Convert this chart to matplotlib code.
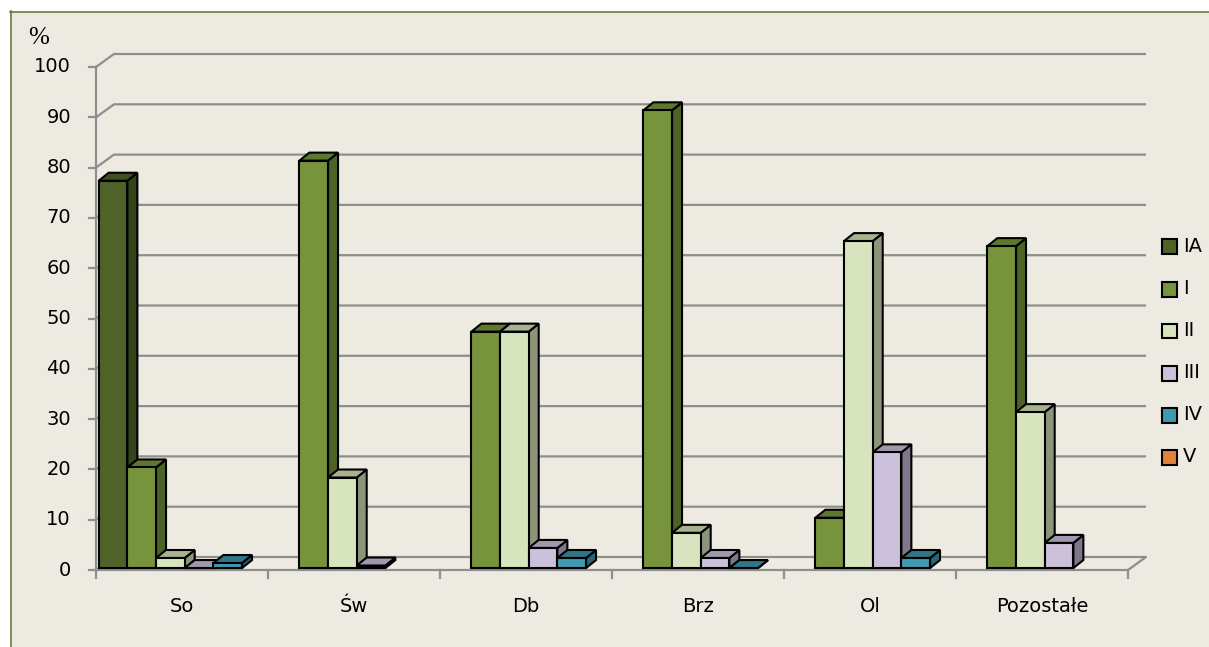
import matplotlib
matplotlib.use("Agg")
import matplotlib.pyplot as plt
from matplotlib.patches import Polygon, Rectangle
from matplotlib.lines import Line2D

W, H = 1209, 647

categories = ["So", "Św", "Db", "Brz", "Ol", "Pozostałe"]
series_names = ["IA", "I", "II", "III", "IV", "V"]

# None = empty cell (no bar drawn), 0 = flat bar
ia_vals = [77, None, None, None, None, None]
i_vals = [20, 81, 47, 91, 10, 64]
ii_vals = [2, 18, 47, 7, 65, 31]
iii_vals = [0, 0.5, 4, 2, 23, 5]
iv_vals = [1, None, 2, 0, 2, None]
v_vals = [None, None, None, None, None, None]
all_vals = [ia_vals, i_vals, ii_vals, iii_vals, iv_vals, v_vals]

y_ticks = list(range(0, 101, 10))

# front / top / side colours per series
front_c = ["#4F6228", "#77933C", "#D7E4BD", "#CCC1DA", "#4198AF", "#E46C0A"]
top_c = ["#3F4F20", "#5E7830", "#A7B38F", "#A298AE", "#2E7688", "#B85608"]
side_c = ["#364419", "#4D6226", "#8C947A", "#7E778A", "#286475", "#9A4806"]
legend_c = ["#4F6228", "#77933C", "#D7E4BD", "#CCC1DA", "#4198AF", "#E3803A"]

bg = "#EDEBE1"
grid_c = "#8E8E8E"
FONT = "DejaVu Sans"
FS = 14

# pixel geometry
PX_X = 172.0   # px per category
PX_Y = 5.03    # px per percent
x0_px, y0_px = 96, 570
back_dx, back_dy = 18 / PX_X, 13 / PX_Y
bar_dx, bar_dy = 10 / PX_X, 8 / PX_Y
front_f = 0.15
xmax = len(categories) + back_dx
ymax = 100 + back_dy + 0.2

fig = plt.figure(figsize=(W / 100, H / 100), dpi=100)
fig.patch.set_facecolor("white")
fig.patches.append(Rectangle((10 / W, 0), 1 - 10 / W, 1 - 11 / H, transform=fig.transFigure,
                             facecolor=bg, edgecolor="none", zorder=-10))
fig.lines.append(Line2D([10.5 / W, 10.5 / W], [0, 1 - 11 / H], transform=fig.transFigure,
                        color="#6E7D3C", lw=1.2, zorder=-9))
fig.lines.append(Line2D([10 / W, 1], [1 - 11.5 / H, 1 - 11.5 / H], transform=fig.transFigure,
                        color="#6E7D3C", lw=1.2, zorder=-9))

ax_w = xmax * PX_X
ax_h = ymax * PX_Y
ax = fig.add_axes([x0_px / W, (H - y0_px) / H, ax_w / W, ax_h / H])
ax.set_xlim(0, xmax)
ax.set_ylim(0, ymax)
ax.axis("off")
ax.patch.set_alpha(0)

glw = 1.6
# gridlines on back wall + left wall diagonal
for v in y_ticks:
    if v == 0:
        continue
    ax.plot([0, back_dx, xmax], [v, v + back_dy, v + back_dy], color=grid_c, lw=glw,
            solid_capstyle="butt", zorder=1, clip_on=False)
# floor
ax.plot([0, len(categories), xmax, back_dx, 0], [0, 0, back_dy, back_dy, 0],
        color=grid_c, lw=glw, zorder=1, clip_on=False)
# y axis
ax.plot([0, 0], [0, 100], color=grid_c, lw=glw, zorder=1, clip_on=False)
tick_len = 7 / PX_X
for v in y_ticks:
    ax.plot([-tick_len, 0], [v, v], color=grid_c, lw=glw, zorder=1, clip_on=False)
    ax.text(-25 / PX_X, v, str(v), ha="right", va="center", fontsize=FS,
            family=FONT, color="black")
for i in range(len(categories) + 1):
    ax.plot([i, i], [0, -8 / PX_Y], color=grid_c, lw=glw, zorder=1, clip_on=False)
for i, c in enumerate(categories):
    ax.text(i + 0.5, -36 / PX_Y, c, ha="center", va="center", fontsize=FS,
            family=FONT, color="black")
ax.text(-68 / PX_X, 100 + 29 / PX_Y, "%", ha="left", va="center", fontsize=18,
        family="Liberation Serif", color="black")

# bars
slot = 1.0 / len(series_names)
z = 2
elw = 1.5
for i in range(len(categories)):
    for j, vals in enumerate(all_vals):
        v = vals[i]
        if v is None:
            continue
        xl = i + j * slot + front_f * back_dx
        xr = xl + slot
        yb = front_f * back_dy
        yt = yb + v
        side = [(xr, yb), (xr + bar_dx, yb + bar_dy), (xr + bar_dx, yt + bar_dy), (xr, yt)]
        top = [(xl, yt), (xr, yt), (xr + bar_dx, yt + bar_dy), (xl + bar_dx, yt + bar_dy)]
        front = [(xl, yb), (xr, yb), (xr, yt), (xl, yt)]
        for pts, col in ((side, side_c[j]), (top, top_c[j]), (front, front_c[j])):
            ax.add_patch(Polygon(pts, closed=True, facecolor=col, edgecolor="black",
                                 lw=elw, joinstyle="miter", zorder=z, clip_on=False))
        z += 1

# legend
for k, name in enumerate(series_names):
    yc = 247 + k * 42
    fig.patches.append(Rectangle((1162 / W, 1 - (yc + 7.5) / H), 15 / W, 15 / H,
                                 transform=fig.transFigure, facecolor=legend_c[k],
                                 edgecolor="black", lw=1.5, zorder=5))
    fig.text(1183 / W, 1 - yc / H, name, ha="left", va="center", fontsize=FS,
             family=FONT, color="black")

fig.savefig("out.png", dpi=100, facecolor=fig.get_facecolor())
